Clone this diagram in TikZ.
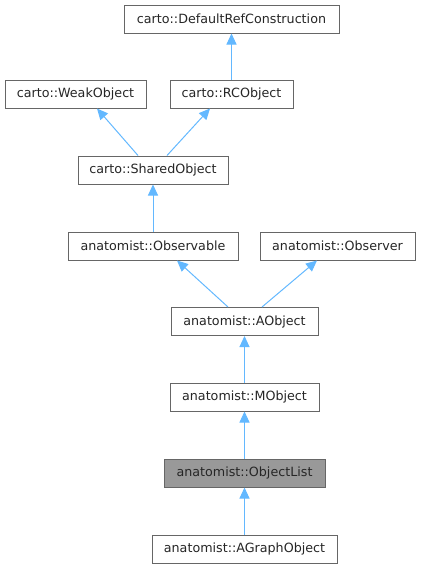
\documentclass[tikz,border=0pt]{standalone}
\usepackage{fontspec}
\setmainfont{DejaVu Sans}
\usetikzlibrary{arrows.meta,calc}
\definecolor{edgeblue}{HTML}{63B8FF}
\definecolor{boxgray}{HTML}{666666}
\definecolor{fillgray}{HTML}{999999}
\tikzset{
  cls/.style={draw=boxgray,line width=1pt,fill=white,minimum height=28pt,inner sep=0pt,font=\fontsize{12.7}{14}\selectfont,text=black!85},
  cur/.style={cls,fill=fillgray},
  edge/.style={draw=edgeblue,line width=1pt,-{Triangle[length=11pt,width=10pt]}},
}
\begin{document}
\begin{tikzpicture}[x=1pt,y=-1pt]
\useasboundingbox (0,0) rectangle (421,568);
\node[cls,minimum width=215pt] (drc) at (231.5,19) {carto::DefaultRefConstruction};
\node[cls,minimum width=141pt] (weak) at (75.5,94) {carto::WeakObject};
\node[cls,minimum width=123pt] (rc) at (231.5,94) {carto::RCObject};
\node[cls,minimum width=150pt] (shared) at (153,170) {carto::SharedObject};
\node[cls,minimum width=170pt] (obsable) at (153,246) {anatomist::Observable};
\node[cls,minimum width=155pt] (obser) at (337.5,246) {anatomist::Observer};
\node[cls,minimum width=147pt] (aobj) at (244.5,321.5) {anatomist::AObject};
\node[cls,minimum width=149pt] (mobj) at (244.5,397) {anatomist::MObject};
\node[cur,minimum width=161pt] (olist) at (244.5,473) {anatomist::ObjectList};
\node[cls,minimum width=185pt] (agraph) at (244.5,549) {anatomist::AGraphObject};
\draw[edge] (rc.north) -- (drc.south);
\draw[edge] ($(shared.north)+(-15,0)$) -- ($(weak.south)+(21.5,0)$);
\draw[edge] ($(shared.north)+(14,0)$) -- ($(rc.south)+(-21.5,0)$);
\draw[edge] (obsable.north) -- (shared.south);
\draw[edge] ($(aobj.north)+(-16.5,0)$) -- ($(obsable.south)+(24,0)$);
\draw[edge] ($(aobj.north)+(17.5,0)$) -- ($(obser.south)+(-20.5,0)$);
\draw[edge] (mobj.north) -- (aobj.south);
\draw[edge] (olist.north) -- (mobj.south);
\draw[edge] (agraph.north) -- (olist.south);
\end{tikzpicture}
\end{document}
